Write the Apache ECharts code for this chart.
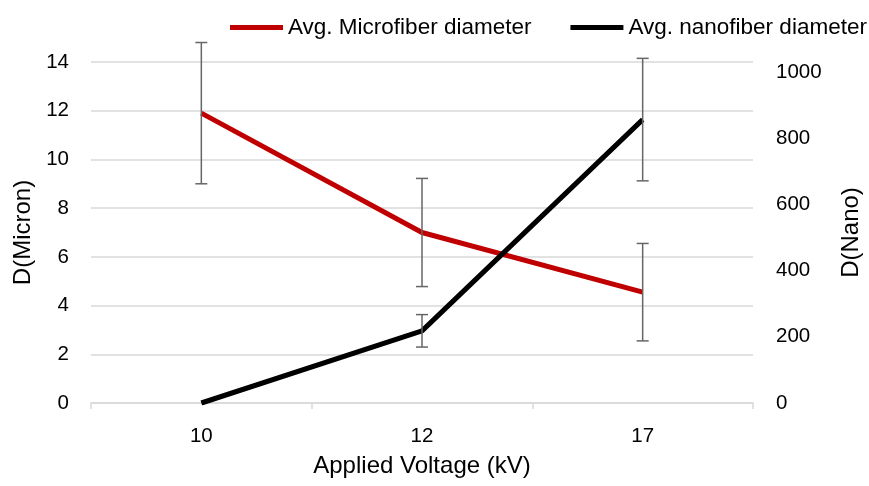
<!DOCTYPE html>
<html lang="en">
<head>
    <meta charset="UTF-8">
    <title>fiber diameter</title>
    <style type="text/css">
        html, body { margin: 0; padding: 0; background: #fff; }
        #chart { width: 869px; height: 486px; }
    </style>
</head>
<body>
    <div id="chart"></div>
    <script src="https://cdn.jsdelivr.net/npm/echarts@6/dist/echarts.min.js"></script>
    <script type="text/javascript">
        var voltages = ['10', '12', '17'];
        var microMean = [11.9, 7.0, 4.55];
        var microErr = [2.9, 2.22, 2.0];
        var nanoMean = [0, 218, 856];
        var nanoErr = [0, 49, 185];

        var font = 'Liberation Sans';

        function errData(mean, err) {
            var out = [];
            for (var i = 0; i < mean.length; i++) {
                if (err[i] > 0) out.push([i, mean[i] - err[i], mean[i] + err[i]]);
            }
            return out;
        }

        function errRender(params, api) {
            var lo = api.coord([api.value(0), api.value(1)]);
            var hi = api.coord([api.value(0), api.value(2)]);
            var w = 6;
            var st = { stroke: '#666666', lineWidth: 1.5 };
            return {
                type: 'group',
                children: [
                    { type: 'line', shape: { x1: hi[0], y1: hi[1], x2: lo[0], y2: lo[1] }, style: st },
                    { type: 'line', shape: { x1: hi[0] - w, y1: hi[1], x2: hi[0] + w, y2: hi[1] }, style: st },
                    { type: 'line', shape: { x1: lo[0] - w, y1: lo[1], x2: lo[0] + w, y2: lo[1] }, style: st }
                ]
            };
        }

        var myChart = echarts.init(document.getElementById('chart'));
        var option = {
            animation: false,
            textStyle: { fontFamily: font },
            legend: {
                left: 230,
                top: 16,
                width: 639,
                padding: 0,
                itemWidth: 53,
                itemHeight: 5,
                itemGap: 39,
                icon: 'rect',
                textStyle: { fontSize: 22.5, color: '#000', fontFamily: font },
                data: [
                    { name: 'Avg. Microfiber diameter', itemStyle: { color: '#C00000' } },
                    { name: 'Avg. nanofiber diameter', itemStyle: { color: '#000000' } }
                ]
            },
            grid: { left: 91, right: 116, top: 62, bottom: 83, outerBoundsMode: 'none' },
            xAxis: {
                type: 'category',
                data: voltages,
                name: 'Applied Voltage (kV)',
                nameLocation: 'middle',
                nameGap: 51,
                nameTextStyle: { fontSize: 24, color: '#000' },
                axisLine: { lineStyle: { color: '#d9d9d9', width: 1.5 } },
                axisTick: { show: true, length: 6, lineStyle: { color: '#d9d9d9', width: 1.5 } },
                axisLabel: { fontSize: 20.5, color: '#000', margin: 23 }
            },
            yAxis: [
                {
                    type: 'value',
                    min: 0,
                    max: 14,
                    interval: 2,
                    name: 'D(Micron)',
                    nameLocation: 'middle',
                    nameGap: 56,
                    nameTextStyle: { fontSize: 24, color: '#000' },
                    axisLine: { show: false },
                    axisTick: { show: false },
                    axisLabel: { fontSize: 20.5, color: '#000', margin: 22 },
                    splitLine: { lineStyle: { color: '#d9d9d9', width: 1.5 } }
                },
                {
                    type: 'value',
                    min: 0,
                    max: 1030,
                    interval: 200,
                    name: 'D(Nano)',
                    nameLocation: 'middle',
                    nameGap: 86,
                    nameRotate: 90,
                    nameTextStyle: { fontSize: 24, color: '#000' },
                    axisLine: { show: false },
                    axisTick: { show: false },
                    axisLabel: {
                        fontSize: 20.5, color: '#000', margin: 23, showMaxLabel: false,
                        formatter: function (v) { return String(v); }
                    },
                    splitLine: { show: false }
                }
            ],
            series: [
                {
                    name: 'Avg. Microfiber diameter',
                    type: 'line',
                    data: microMean,
                    yAxisIndex: 0,
                    showSymbol: false,
                    lineStyle: { color: '#C00000', width: 5 },
                    itemStyle: { color: '#C00000' },
                    z: 3
                },
                {
                    name: 'Avg. nanofiber diameter',
                    type: 'line',
                    data: nanoMean,
                    yAxisIndex: 1,
                    showSymbol: false,
                    lineStyle: { color: '#000000', width: 5 },
                    itemStyle: { color: '#000000' },
                    z: 3
                },
                {
                    type: 'custom',
                    yAxisIndex: 0,
                    renderItem: errRender,
                    data: errData(microMean, microErr),
                    z: 4
                },
                {
                    type: 'custom',
                    yAxisIndex: 1,
                    renderItem: errRender,
                    data: errData(nanoMean, nanoErr),
                    z: 4
                }
            ]
        };
        myChart.setOption(option);
    </script>
</body>
</html>
